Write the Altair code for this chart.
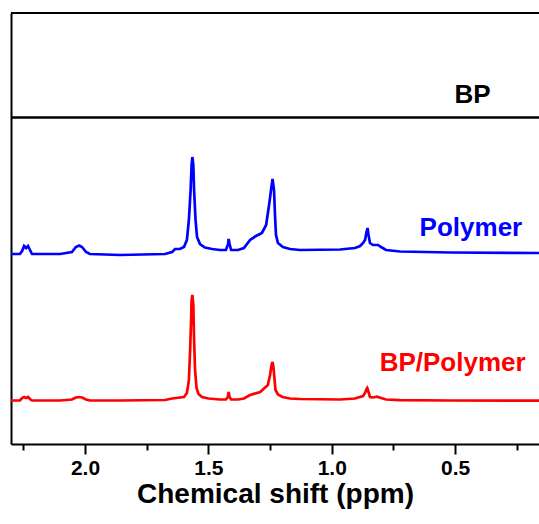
import altair as alt
import pandas as pd

# Chemical shift (ppm) and displayed intensity (stacked, arbitrary units)
bp_ppm = [2.30, 1.80, 1.30, 0.80, 0.16]
bp_y = [326.5, 326.5, 326.5, 326.5, 326.5]

polymer_ppm = [
    2.300, 2.264, 2.255, 2.247, 2.239, 2.231, 2.223, 2.215, 2.101, 2.053,
    2.037, 2.024, 2.012, 1.996, 1.980, 1.858, 1.676, 1.647, 1.635, 1.615,
    1.599, 1.587, 1.579, 1.572, 1.568, 1.565, 1.561, 1.558, 1.552, 1.546,
    1.534, 1.514, 1.485, 1.453, 1.429, 1.420, 1.418, 1.414, 1.408, 1.380,
    1.356, 1.331, 1.307, 1.283, 1.266, 1.254, 1.246, 1.240, 1.234, 1.230,
    1.226, 1.218, 1.198, 1.169, 1.129, 0.966, 0.906, 0.885, 0.873, 0.865,
    0.859, 0.855, 0.851, 0.845, 0.833, 0.820, 0.812, 0.800, 0.780, 0.723,
    0.520, 0.160,
]
polymer_y = [
    190, 190, 193, 198, 196, 198, 194, 190, 190, 192,
    197, 198.5, 197, 192, 190, 189, 190, 192, 195, 195,
    197, 204, 224, 254, 279, 287, 279, 254, 224, 207,
    200, 196.5, 195, 194, 194, 200, 205, 200, 194, 194,
    196, 204, 208, 211, 219, 239, 254, 265, 254, 229,
    209, 201, 197, 195, 194, 194.5, 196, 198, 201, 204,
    212, 216, 209, 201, 199, 199, 199, 197, 194, 192.5,
    191.5, 191,
]

blend_ppm = [
    2.300, 2.264, 2.255, 2.247, 2.239, 2.231, 2.223, 2.215, 2.101, 2.053,
    2.037, 2.024, 2.012, 1.996, 1.980, 1.858, 1.676, 1.647, 1.615, 1.599,
    1.587, 1.579, 1.574, 1.570, 1.568, 1.565, 1.561, 1.558, 1.554, 1.548,
    1.540, 1.526, 1.500, 1.453, 1.429, 1.421, 1.418, 1.414, 1.408, 1.380,
    1.356, 1.331, 1.290, 1.259, 1.250, 1.244, 1.240, 1.236, 1.231, 1.228,
    1.218, 1.200, 1.169, 1.129, 0.966, 0.906, 0.873, 0.865, 0.859, 0.856,
    0.851, 0.845, 0.833, 0.816, 0.800, 0.780, 0.723, 0.520, 0.160,
]
blend_y = [
    43.5, 43.5, 46, 47, 46, 47, 45, 43.5, 43.5, 44.5,
    46.5, 47, 46.5, 44.5, 43.5, 43.5, 44, 45.5, 46.5, 47,
    51, 64, 94, 124, 144, 149, 139, 104, 74, 56,
    50, 47, 45.5, 44.5, 44.5, 47, 52, 47, 44.5, 44.5,
    45.5, 49, 52, 59, 69, 79, 82, 76, 62, 54,
    49.5, 47, 45.5, 45, 44.5, 45.5, 48, 51, 55, 56,
    52, 47, 46.5, 47.3, 46, 44.5, 43.8, 43.5, 43.3,
]

labels = ["BP", "Polymer", "BP/Polymer"]
label_ppm = [0.429, 0.436, 0.510]
label_y = [341, 208.3, 73.3]
label_colors = ["#000000", "#0000FF", "#FF0000"]

spectra = pd.concat([
    pd.DataFrame({"ppm": bp_ppm, "y": bp_y, "sample": "BP"}),
    pd.DataFrame({"ppm": polymer_ppm, "y": polymer_y, "sample": "Polymer"}),
    pd.DataFrame({"ppm": blend_ppm, "y": blend_y, "sample": "BP/Polymer"}),
])
text_df = pd.DataFrame({"label": labels, "ppm": label_ppm, "y": label_y,
                        "color": label_colors})

FONT = "Liberation Sans"
major = "abs(datum.value * 2 - round(datum.value * 2)) < 0.01"

x_scale = alt.Scale(domain=[0.16, 2.30], reverse=True, nice=False, zero=False)
y_scale = alt.Scale(domain=[0, 431], nice=False, zero=False)

x_axis = alt.Axis(
    values=[2.25, 2.0, 1.75, 1.5, 1.25, 1.0, 0.75, 0.5, 0.25],
    labelExpr=f"{major} ? format(datum.value, '.1f') : ''",
    tickSize={"condition": {"test": major, "value": 10}, "value": 6},
    tickWidth=2, tickColor="black",
    domainColor="black", domainWidth=2,
    grid=False,
    labelFont=FONT, labelFontWeight="bold", labelFontSize=21,
    labelColor="black", labelPadding=3, labelFlush=False,
    title="Chemical shift (ppm)", titleFont=FONT, titleFontWeight="bold",
    titleFontSize=28, titleColor="black", titlePadding=2,
)
y_axis = alt.Axis(labels=False, ticks=False, grid=False, title=None,
                  domainColor="black", domainWidth=2)

lines = alt.Chart(spectra).mark_line(clip=True, strokeWidth=2.7).encode(
    x=alt.X("ppm:Q", scale=x_scale, axis=x_axis),
    y=alt.Y("y:Q", scale=y_scale, axis=y_axis),
    color=alt.Color("sample:N",
                    scale=alt.Scale(domain=["BP", "Polymer", "BP/Polymer"],
                                    range=["#000000", "#0000FF", "#FF0000"]),
                    legend=None),
    detail="sample:N",
)

text = alt.Chart(text_df).mark_text(
    font=FONT, fontWeight="bold", fontSize=26, baseline="alphabetic",
    align="center",
).encode(
    x=alt.X("ppm:Q", scale=x_scale),
    y=alt.Y("y:Q", scale=y_scale),
    text="label:N",
    color=alt.Color("color:N", scale=None),
)

# top edge of the frame
top_edge = alt.Chart(text_df).mark_rule(color="black", strokeWidth=2).encode(
    y=alt.value(0), x=alt.value(0), x2=alt.value(528),
)

chart = alt.layer(lines, text, top_edge).properties(
    width=528, height=431,
    padding={"left": 11, "top": 13, "right": 0, "bottom": 80},
    autosize=alt.AutoSizeParams(type="none"),
).configure_view(stroke=None).configure(background="white")

chart.save("out.html", embed_options={"renderer": "svg", "actions": False})
